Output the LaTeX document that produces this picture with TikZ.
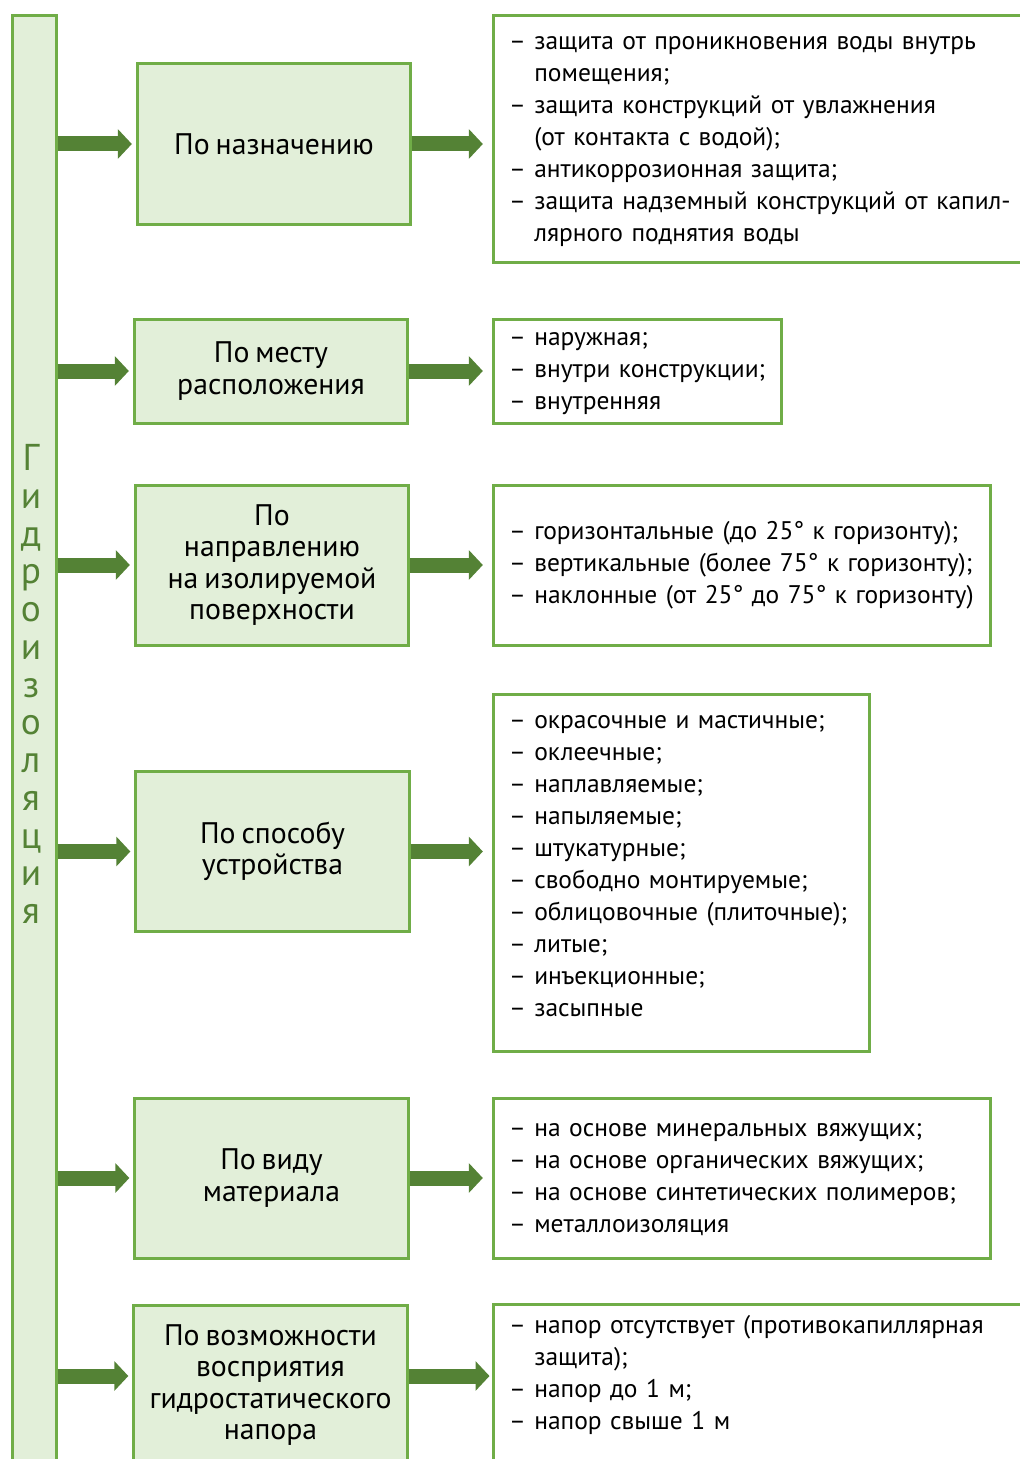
\documentclass[tikz,border=0pt]{standalone}
\usepackage{fontspec}
\setmainfont{PT Sans}[WordSpace=0.75]
\usetikzlibrary{arrows.meta}
\definecolor{ramka}{HTML}{70AD47}
\definecolor{zalivka}{HTML}{E2EFD9}
\definecolor{temnzel}{HTML}{548235}
\newcommand{\dalee}{\phantom{– }}

\begin{document}
\begin{tikzpicture}[x=0.75pt, y=-0.75pt,
    vid/.style={draw=ramka, line width=2.25pt, fill=zalivka, align=center,
      font=\fontsize{22.3}{23.5}\selectfont, minimum width=205pt, minimum height=120pt},
    spisok/.style={draw=ramka, line width=2.25pt, fill=white, align=left,
      font=\fontsize{19.1}{24}\selectfont, inner xsep=12pt, inner ysep=0pt},
    strelka/.style={temnzel, line width=11.25pt,
      -{Triangle[length=10.5pt, width=21.75pt]}}]
  \clip (0,0) rectangle (1020,1459);

  % левая полоса
  \node[draw=ramka, line width=2.25pt, fill=zalivka, minimum width=33pt,
    minimum height=1090.5pt] (bar) at (34,743) {};
  \node[temnzel, align=center, font=\fontsize{28}{28.3}\selectfont] (slovo) at (31,684)
    {Г\\и\\д\\р\\о\\и\\з\\о\\л\\я\\ц\\и\\я};

  % признаки
  \node[vid] (b1) at (274,144) {По назначению};
  \node[vid, minimum height=78pt] (b2) at (271,371) {По месту\\расположения};
  \node[vid] (b3) at (272,565) {По\\направлению\\на изолируемой\\поверхности};
  \node[vid] (b4) at (272.5,851.5) {По способу\\устройства};
  \node[vid] (b5) at (271.5,1178) {По виду\\материала};
  \node[vid] (b6) at (270.5,1385) {По возможности\\восприятия\\гидростатического\\напора};

  % виды
  \node[spisok, text width=396pt, minimum height=184.5pt] (r1) at (773,139)
    {\begin{tabular}{@{}l@{}}
     – защита от проникновения воды внутрь\\
     \dalee помещения;\\
     – защита конструкций от увлажнения\\
     \dalee (от контакта с водой);\\
     – антикоррозионная защита;\\
     – защита надземный конструкций от капил-\\
     \dalee лярного поднятия воды
     \end{tabular}};
  \node[spisok, text width=192pt, minimum height=78pt] (r2) at (637,371)
    {\begin{tabular}{@{}l@{}}
     – наружная;\\
     – внутри конструкции;\\
     – внутренняя
     \end{tabular}};
  \node[spisok, text width=348.75pt, minimum height=120pt] (r3) at (741.5,565)
    {\begin{tabular}{@{}l@{}}
     – горизонтальные (до 25° к горизонту);\\
     – вертикальные (более 75° к горизонту);\\
     – наклонные (от 25° до 75° к горизонту)
     \end{tabular}};
  \node[spisok, text width=258pt, minimum height=267.75pt] (r4) at (681,872.5)
    {\begin{tabular}{@{}l@{}}
     – окрасочные и мастичные;\\
     – оклеечные;\\
     – наплавляемые;\\
     – напыляемые;\\
     – штукатурные;\\
     – свободно монтируемые;\\
     – облицовочные (плиточные);\\
     – литые;\\
     – инъекционные;\\
     – засыпные\\[9.75pt]
     \end{tabular}};
  \node[spisok, text width=348.75pt, minimum height=120pt] (r5) at (741.5,1178)
    {\begin{tabular}{@{}l@{}}
     – на основе минеральных вяжущих;\\
     – на основе органических вяжущих;\\
     – на основе синтетических полимеров;\\
     – металлоизоляция
     \end{tabular}};
  \node[spisok, text width=396pt, minimum height=132pt] (r6) at (773,1392)
    {\begin{tabular}{@{}l@{}}
     – напор отсутствует (противокапиллярная\\
     \dalee защита);\\
     – напор до 1 м;\\
     – напор свыше 1 м\\[25.5pt]
     \end{tabular}};

  % стрелки
  \foreach \n in {1,...,5} {
    \draw[strelka, shorten >=3pt] (bar.east |- b\n) -- (b\n.west);
    \draw[strelka, shorten >=6.5pt] (b\n.east) -- (r\n.west |- b\n.east);
  }
  \draw[strelka, shorten >=3pt] (bar.east |- b6.west) ++(0,-9) -- ([yshift=6.75pt]b6.west);
  \draw[strelka, shorten >=1.5pt] ([yshift=6.75pt]b6.east) -- ([yshift=6.75pt]r6.west |- b6.east);
\end{tikzpicture}
\end{document}
